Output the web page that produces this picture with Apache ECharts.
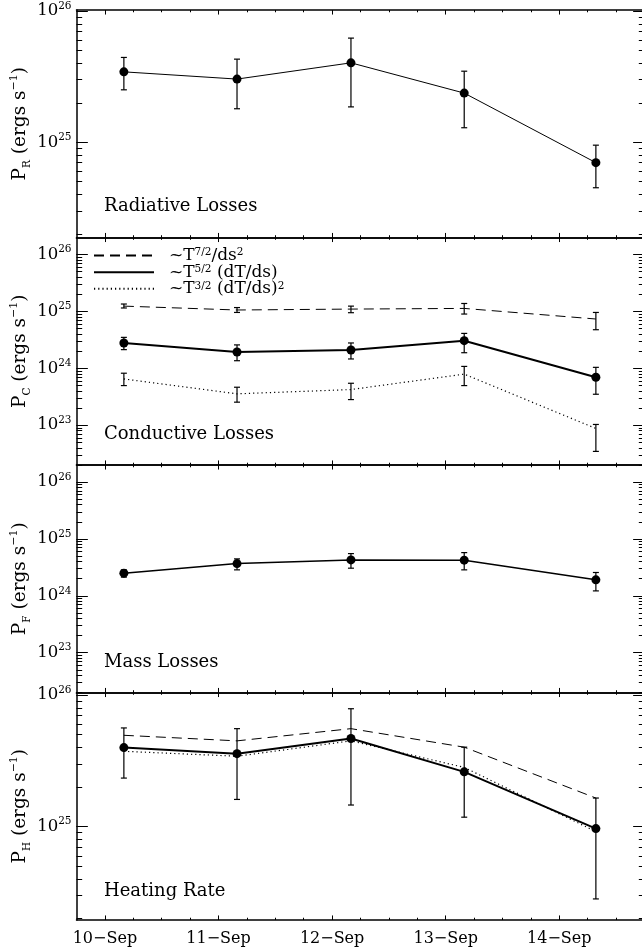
<!DOCTYPE html>
<html><head><meta charset="utf-8">
<script src="https://cdn.jsdelivr.net/npm/echarts@6/dist/echarts.min.js"></script>
<style>html,body{margin:0;padding:0;background:#fff}#c{width:642px;height:952px}</style>
</head><body><div id="c"></div>
<script>
// ---------- data ----------
const xDays = [0.167, 1.163, 2.166, 3.163, 4.322];           // days after 10-Sep 00:00
const xTickValues = [0, 1, 2, 3, 4];
const xTickLabels = ['10\u2212Sep', '11\u2212Sep', '12\u2212Sep', '13\u2212Sep', '14\u2212Sep'];

// Radiative losses P_R
const radVal  = [3.44e25, 3.03e25, 4.03e25, 2.37e25, 6.99e24];
const radLow  = [2.51e25, 1.80e25, 1.86e25, 1.29e25, 4.5e24];
const radHigh = [4.43e25, 4.30e25, 6.22e25, 3.48e25, 9.5e24];

// Conductive losses P_C
const condT72     = [1.24e25, 1.06e25, 1.10e25, 1.13e25, 7.36e24];
const condT72Low  = [1.15e25, 9.6e24, 9.5e24, 9.0e24, 4.77e24];
const condT72High = [1.35e25, 1.17e25, 1.24e25, 1.38e25, 9.6e24];
const condT52     = [2.79e24, 1.94e24, 2.10e24, 3.06e24, 6.95e23];
const condT52Low  = [2.13e24, 1.36e24, 1.46e24, 1.88e24, 3.50e23];
const condT52High = [3.50e24, 2.58e24, 2.79e24, 4.11e24, 1.04e24];
const condT32     = [6.5e23, 3.56e23, 4.23e23, 7.9e23, 8.75e22];
const condT32Low  = [4.97e23, 2.54e23, 2.82e23, 4.97e23, 3.46e22];
const condT32High = [8.2e23, 4.65e23, 5.46e23, 1.08e24, 1.03e23];

// Mass losses P_F
const massVal  = [2.50e24, 3.69e24, 4.28e24, 4.23e24, 1.91e24];
const massLow  = [2.13e24, 2.86e24, 3.06e24, 2.86e24, 1.22e24];
const massHigh = [2.86e24, 4.46e24, 5.52e24, 5.75e24, 2.57e24];

// Heating rate P_H
const heatT52     = [3.99e25, 3.59e25, 4.68e25, 2.61e25, 9.66e24];
const heatT52Low  = [2.34e25, 1.61e25, 1.46e25, 1.18e25, 2.82e24];
const heatT52High = [5.63e25, 5.56e25, 7.88e25, 4.02e25, 1.65e25];
const heatT72     = [4.95e25, 4.49e25, 5.56e25, 4.02e25, 1.65e25];
const heatT32     = [3.74e25, 3.43e25, 4.49e25, 2.82e25, 9.17e24];

const legendLabels = {
  T72: '~T{sup|7/2}/ds{sup|2}',
  T52: '~T{sup|5/2} (dT/ds)',
  T32: '~T{sup|3/2} (dT/ds){sup|2}'
};

// ---------- layout / style ----------
const FONT = 'DejaVu Serif';
const X_MIN = -0.25, X_MAX = 4.75;
const panels = [
  {top: 10,    height: 227.5, logMin: 24.274, logMax: 26.008, sub: 'R', label: 'Radiative Losses',  labelTop: 197},
  {top: 237.5, height: 227.5, logMin: 22.3,   logMax: 26.3,   sub: 'C', label: 'Conductive Losses', labelTop: 425},
  {top: 465,   height: 227.5, logMin: 22.3,   logMax: 26.3,   sub: 'F', label: 'Mass Losses',       labelTop: 653.5},
  {top: 692.5, height: 227.5, logMin: 24.29,  logMax: 26.02,  sub: 'H', label: 'Heating Rate',      labelTop: 882}
];
const PLOT_LEFT = 76.5, PLOT_WIDTH = 568;

function logTicks(L0, L1) {
  const majors = [], minors = [];
  for (let n = Math.floor(L0); n <= Math.ceil(L1); n++) {
    const p = Math.pow(10, n);
    if (n >= L0 - 1e-9 && n <= L1 + 1e-9) majors.push(p);
    for (let k = 2; k <= 9; k++) {
      const l = Math.log10(k) + n;
      if (l >= L0 && l <= L1) minors.push(k * p);
    }
  }
  return {majors, minors};
}
const xAll = [];
for (let v = X_MIN + 0.25; v < X_MAX - 1e-9; v += 0.25) xAll.push(+v.toFixed(2));

const option = {
  animation: false,
  backgroundColor: '#fff',
  textStyle: {fontFamily: FONT, color: '#000'},
  grid: [], xAxis: [], yAxis: [], series: [], title: [], legend: []
};

const black = {color: '#000', width: 1.5};
const xAxisIdx = [], yAxisIdx = [];

panels.forEach((p, g) => {
  option.grid.push({left: PLOT_LEFT, width: PLOT_WIDTH, top: p.top, height: p.height,
                    outerBoundsMode: 'none', containLabel: false});
  const xMajLen = p.height * 0.02, xMinLen = xMajLen / 2;
  const yMajLen = PLOT_WIDTH * 0.02, yMinLen = yMajLen / 2;
  const base = {gridIndex: g, type: 'value', min: X_MIN, max: X_MAX, splitLine: {show: false}};
  xAxisIdx.push(option.xAxis.length);
  ['bottom', 'top'].forEach(pos => {
    // main axis: frame line + all (quarter-day) ticks at minor length + labels
    option.xAxis.push(Object.assign({}, base, {
      position: pos,
      axisLine: {show: true, onZero: false, lineStyle: black},
      axisTick: {show: true, inside: true, length: xMinLen, customValues: xAll, lineStyle: {color: '#000', width: 1}},
      axisLabel: (g === 3 && pos === 'bottom') ? {
        show: true, customValues: xTickValues, margin: 11, fontSize: 16, fontFamily: FONT, color: '#000',
        formatter: v => xTickLabels[Math.round(v)]
      } : {show: false}
    }));
    // overlay axis: longer day ticks
    option.xAxis.push(Object.assign({}, base, {
      position: pos,
      axisLine: {show: false, onZero: false},
      axisTick: {show: true, inside: true, length: xMajLen, customValues: xTickValues, lineStyle: {color: '#000', width: 1}},
      axisLabel: {show: false}
    }));
  });

  const t = logTicks(p.logMin, p.logMax);
  const allY = t.majors.concat(t.minors).sort((a, b) => a - b);
  const ybase = {gridIndex: g, type: 'log', logBase: 10, min: Math.pow(10, p.logMin), max: Math.pow(10, p.logMax), splitLine: {show: false}};
  yAxisIdx.push(option.yAxis.length);
  ['left', 'right'].forEach(pos => {
    option.yAxis.push(Object.assign({}, ybase, {
      position: pos,
      axisLine: {show: true, onZero: false, lineStyle: black},
      axisTick: {show: true, inside: true, length: yMinLen, customValues: allY, lineStyle: {color: '#000', width: 1}},
      axisLabel: pos === 'left' ? {
        show: true, customValues: t.majors, margin: 5, color: '#000',
        formatter: v => '{b|10}{s|' + Math.round(Math.log10(v)) + '}',
        rich: {
          b: {fontSize: 16.5, fontFamily: FONT, lineHeight: 21, verticalAlign: 'middle', color: '#000'},
          s: {fontSize: 10.5, fontFamily: FONT, lineHeight: 13, verticalAlign: 'top', color: '#000'}
        }
      } : {show: false},
      name: pos === 'left' ? '{n|P}{sub|' + p.sub + '}{n| (ergs s}{sup|\u22121}{n|)}' : '',
      nameLocation: 'middle', nameRotate: 90, nameGap: 44, nameMoveOverlap: false,
      nameTextStyle: {
        fontFamily: FONT, color: '#000',
        rich: {
          n: {fontSize: 18.5, fontFamily: FONT, lineHeight: 24, verticalAlign: 'middle', color: '#000'},
          sub: {fontSize: 10.5, fontFamily: FONT, lineHeight: 12, verticalAlign: 'bottom', color: '#000'},
          sup: {fontSize: 11, fontFamily: FONT, lineHeight: 13, verticalAlign: 'top', color: '#000'}
        }
      }
    }));
    option.yAxis.push(Object.assign({}, ybase, {
      position: pos,
      axisLine: {show: false, onZero: false},
      axisTick: {show: true, inside: true, length: yMajLen, customValues: t.majors, lineStyle: {color: '#000', width: 1}},
      axisLabel: {show: false}
    }));
  });

  option.title.push({
    text: p.label, left: 104, top: p.labelTop, padding: 0,
    textStyle: {fontFamily: FONT, fontSize: 18, fontWeight: 'normal', color: '#000', lineHeight: 18}
  });
});

function pairs(vals) { return vals.map((v, i) => [xDays[i], v]); }
function errData(lo, hi) { return lo.map((v, i) => [xDays[i], v, hi[i]]); }
function errRender(params, api) {
  const x = api.value(0);
  const a = api.coord([x, api.value(2)]);
  const b = api.coord([x, api.value(1)]);
  const w = 3;
  const st = {stroke: '#000', lineWidth: 1.2};
  return {type: 'group', children: [
    {type: 'line', shape: {x1: a[0], y1: a[1], x2: b[0], y2: b[1]}, style: st},
    {type: 'line', shape: {x1: a[0] - w, y1: a[1], x2: a[0] + w, y2: a[1]}, style: st},
    {type: 'line', shape: {x1: b[0] - w, y1: b[1], x2: b[0] + w, y2: b[1]}, style: st}
  ]};
}
function addErr(g, lo, hi) {
  option.series.push({
    type: 'custom', xAxisIndex: xAxisIdx[g], yAxisIndex: yAxisIdx[g], renderItem: errRender,
    data: errData(lo, hi), encode: {x: 0, y: [1, 2]}, silent: true, z: 3
  });
}
function addLine(g, name, vals, style) {
  option.series.push(Object.assign({
    type: 'line', name: name, xAxisIndex: xAxisIdx[g], yAxisIndex: yAxisIdx[g],
    data: pairs(vals), silent: true, z: 4
  }, style));
}
const solid = w => ({symbol: 'circle', symbolSize: 9, itemStyle: {color: '#000'}, lineStyle: {color: '#000', width: w, type: 'solid'}});
const dashed = {symbol: 'none', itemStyle: {color: '#000'}, lineStyle: {color: '#000', width: 1, type: [10, 6]}};
const dotted = {symbol: 'none', itemStyle: {color: '#000'}, lineStyle: {color: '#000', width: 1.2, type: [1.2, 3]}};

// Panel 1
addErr(0, radLow, radHigh);
addLine(0, 'rad', radVal, solid(1));
// Panel 2
addErr(1, condT72Low, condT72High);
addErr(1, condT52Low, condT52High);
addErr(1, condT32Low, condT32High);
addLine(1, 'T72', condT72, dashed);
addLine(1, 'T52', condT52, solid(2));
addLine(1, 'T32', condT32, dotted);
// Panel 3
addErr(2, massLow, massHigh);
addLine(2, 'mass', massVal, solid(1.5));
// Panel 4
addErr(3, heatT52Low, heatT52High);
addLine(3, 'T72', heatT72, dashed);
addLine(3, 'T32', heatT32, dotted);
addLine(3, 'T52', heatT52, solid(2));

// Legend (three rows inside the conductive panel)
[['T72', 247], ['T52', 263.7], ['T32', 280.3]].forEach(([name, top]) => {
  option.legend.push({
    data: [{name: name, itemStyle: {opacity: 0}}],
    left: 93, top: top, padding: 0, itemWidth: 60, itemHeight: 14, selectedMode: false,
    formatter: n => legendLabels[n],
    textStyle: {
      fontFamily: FONT, fontSize: 17, color: '#000', padding: [0, 0, 0, 10],
      rich: {sup: {fontSize: 10.5, fontFamily: FONT, lineHeight: 12, verticalAlign: 'top', color: '#000'}}
    }
  });
});

const chart = echarts.init(document.getElementById('c'), null, {renderer: 'canvas'});
chart.setOption(option);
</script>
</body></html>
